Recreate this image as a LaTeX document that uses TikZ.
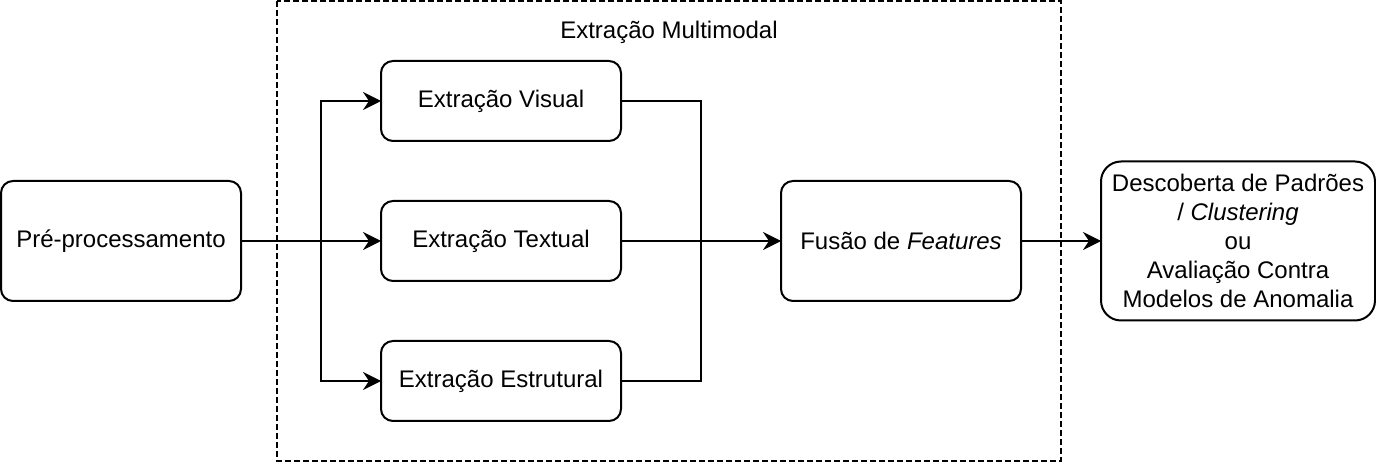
\documentclass[tikz,border=0pt]{standalone}
\usepackage{fontspec}
\setmainfont{Liberation Sans}
\usetikzlibrary{arrows.meta}
\tikzset{
  etapa/.style={draw,line width=1pt,rounded corners=6pt,minimum width=120pt,minimum height=40pt,
    inner sep=0pt,outer sep=0pt,align=center,font=\fontsize{12}{14.5}\selectfont},
  seta/.style={line width=1pt,-{Stealth[length=9pt,width=9pt,inset=3pt]}},
  liga/.style={line width=1pt}
}
\begin{document}
\begin{tikzpicture}[x=0.5pt,y=-0.5pt]
\useasboundingbox (0,0) rectangle (1376,464);
%\draw[very thin,gray] (0,0) grid[step=100] (1376,464);
\draw[line width=1pt,dash pattern=on 3pt off 1.5pt] (277,1) rectangle (1061,461);
\node[font=\fontsize{12}{14.5}\selectfont] (titulo) at (669,32) {Extração Multimodal};

\node[etapa,minimum height=60pt] (pre) at (121,241) {Pré-processamento};
\node[etapa] (visual) at (501,101) {Extração Visual};
\node[etapa] (textual) at (501,241) {Extração Textual};
\node[etapa] (estrutural) at (501,381) {Extração Estrutural};
\node[etapa,minimum height=60pt] (fusao) at (901,241) {Fusão de \textit{Features}};
\node[etapa,rounded corners=10pt,minimum width=137pt,minimum height=79.5pt] (descoberta) at (1238,241)
  {Descoberta de Padrões\\/ \textit{Clustering}\\ou\\Avaliação Contra\\Modelos de Anomalia};

\coordinate (divide) at (321,241);
\coordinate (junta) at (701,241);

\draw[seta] (pre.east) -- (textual.west);
\draw[seta] (divide) |- (visual.west);
\draw[seta] (divide) |- (estrutural.west);
\draw[liga] (visual.east) -| (junta);
\draw[liga] (estrutural.east) -| (junta);
\draw[seta] (textual.east) -- (fusao.west);
\draw[seta] (fusao.east) -- (descoberta.west);
\end{tikzpicture}
\end{document}
